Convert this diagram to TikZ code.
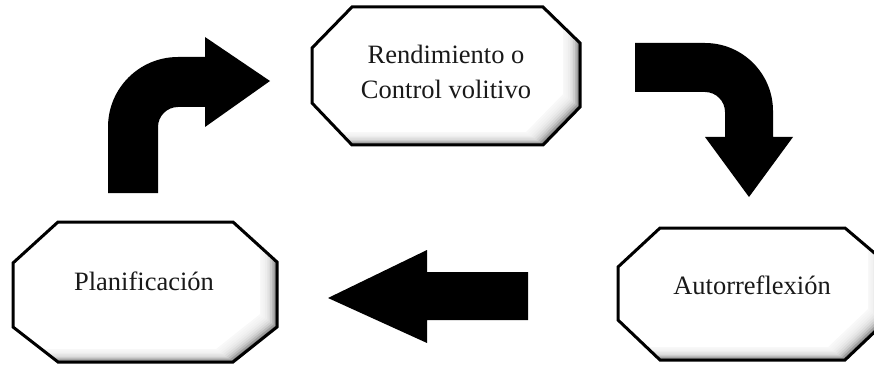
\documentclass[tikz,border=0pt]{standalone}
\usepackage{fontspec}
\setmainfont{Liberation Serif}
\newcommand\shadedoct[1]{%
  \begin{scope}
    \clip #1;
    \fill[black!55] #1;
    \foreach \k in {1,...,9} {\fill[white,opacity=0.3,shift={(-\k*1.7,-\k*1.3)}] #1;}
    \fill[white,shift={(-17,-13)}] #1;
  \end{scope}
  \draw[boxline] #1;
}
\begin{document}
\begin{tikzpicture}[x=1pt,y=-1pt,
  boxline/.style={line width=3pt,line join=miter,black},
  lbl/.style={inner sep=0pt,text=black!90,font=\fontsize{26.5}{35}\selectfont,align=center},
  bigarrow/.style={fill=black,draw=none}]
\useasboundingbox (0,0) rectangle (874,374);
\clip (0,0) rectangle (874,374);
\fill[white] (0,0) rectangle (874,374);
% boxes
\shadedoct{(352,7) -- (543,7) -- (580,43) -- (580,107) -- (543,145) -- (352,145) -- (312,103) -- (312,48) -- cycle}
\shadedoct{(58,222) -- (233,222) -- (277,262) -- (277,327) -- (233,362) -- (58,362) -- (13,327) -- (13,263) -- cycle}
\shadedoct{(660,228) -- (845,228) -- (885,262) -- (885,322) -- (845,360) -- (660,360) -- (618,320) -- (618,267) -- cycle}
% labels
\node[lbl] (rend) at (446,71.6) {Rendimiento o\\Control volitivo};
\node[lbl,anchor=base] (plan) at (144,290) {Planificación};
\node[lbl,anchor=base] (auto) at (752,294) {Autorreflexión};
% up-right curved arrow
\fill[bigarrow] (108,193) -- (108,127) .. controls (108,88.3) and (139.3,57) .. (178,57)
  -- (205,57) -- (205,37) -- (270,81) -- (205,127) -- (205,107) -- (178,107)
  .. controls (167,107) and (158,116) .. (158,127) -- (158,193) -- cycle;
% right-down curved arrow
\fill[bigarrow] (635,43) -- (705,43) .. controls (742.5,43) and (773,73.5) .. (773,111)
  -- (773,137) -- (793,137) -- (749,197) -- (705,137) -- (725,137) -- (725,112)
  .. controls (725,101) and (716,92) .. (705,92) -- (635,92) -- cycle;
% left arrow
\fill[bigarrow] (528,272) -- (427,272) -- (427,250) -- (328,298) -- (427,343) -- (427,320) -- (528,320) -- cycle;
\end{tikzpicture}
\end{document}
